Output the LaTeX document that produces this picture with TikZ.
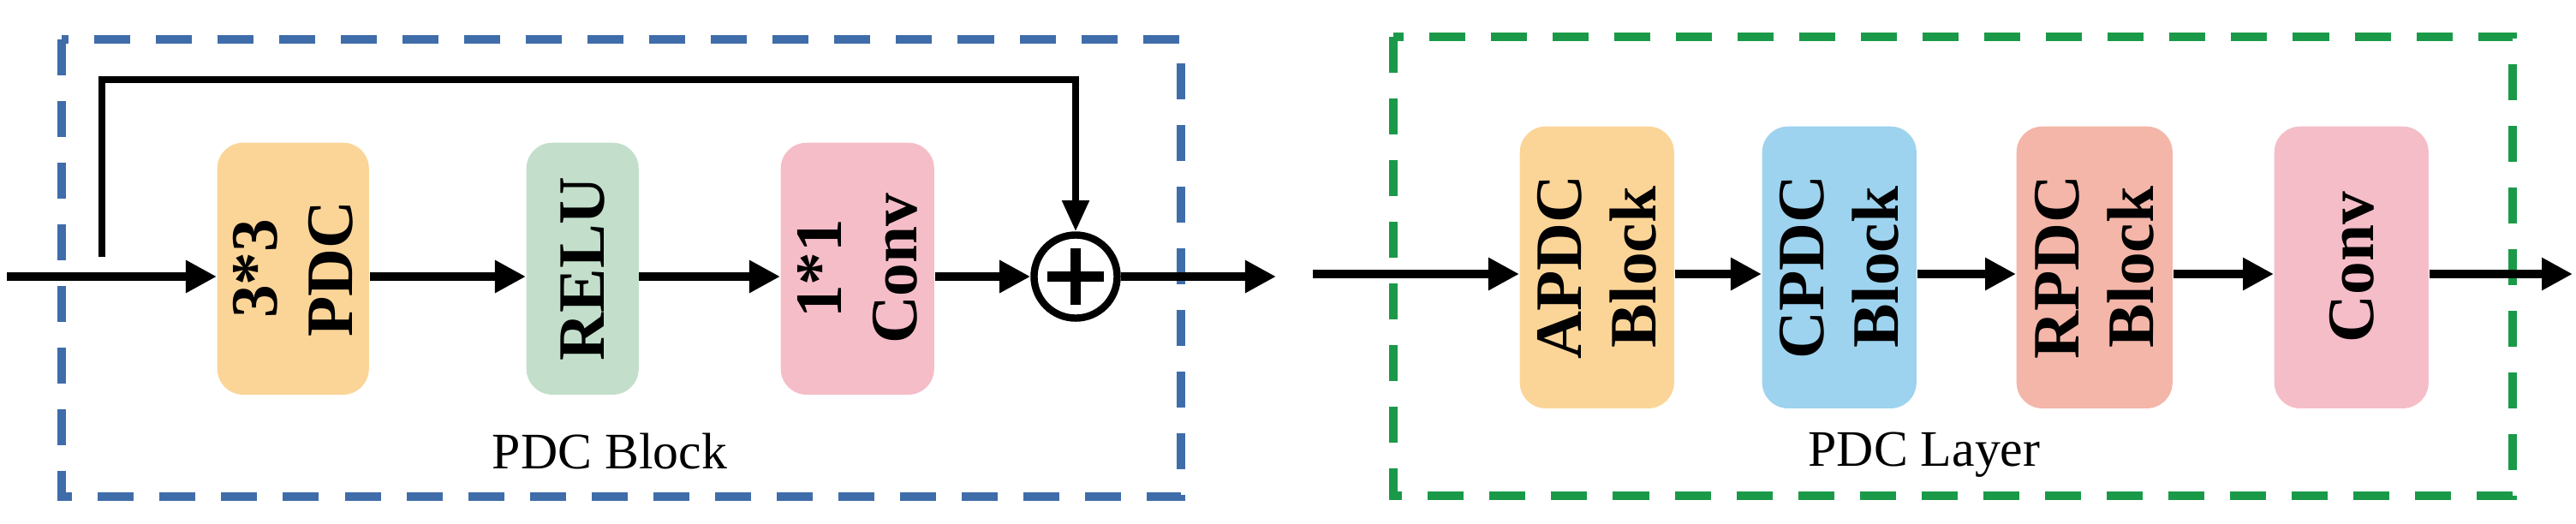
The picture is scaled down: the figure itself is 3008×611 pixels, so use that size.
\documentclass[tikz,border=0pt]{standalone}
\usepackage{fontspec}
\setmainfont{Liberation Serif}
\usetikzlibrary{arrows.meta}
\definecolor{cor}{HTML}{FBD598}
\definecolor{cgr}{HTML}{C3DFCC}
\definecolor{cpk}{HTML}{F5BDC8}
\definecolor{cbl}{HTML}{9DD3EE}
\definecolor{csa}{HTML}{F3B6A8}
\definecolor{dblue}{HTML}{3F6DAA}
\definecolor{dgreen}{HTML}{1A9A48}
\begin{document}
\begin{tikzpicture}[x=0.01cm,y=-0.01cm,
  box/.style={rectangle,rounded corners=0.3cm,draw=none,inner sep=0,anchor=north west},
  txt/.style={rotate=90,font=\fontsize{22}{25}\selectfont\bfseries,align=center},
  arr/.style={line width=2.8pt,-{Triangle[length=0.36cm,width=0.36cm]}},
  frame/.style={line width=2.8pt,dash pattern=on 0.42cm off 0.3cm},
  lab/.style={font=\fontsize{17}{20}\selectfont}]
\useasboundingbox (0,0) rectangle (3008,611);
% left frame
\draw[frame,dblue] (72,46) rectangle (1379,580);
\node[lab] (lb) at (712,527) {PDC Block};
\node[box,fill=cor,minimum width=1.77cm,minimum height=2.94cm] (b1) at (253,166) {};
\node[box,fill=cgr,minimum width=1.31cm,minimum height=2.94cm] (b2) at (614,166) {};
\node[box,fill=cpk,minimum width=1.79cm,minimum height=2.94cm] (b3) at (911,166) {};
\node[txt] at (b1.center) {3*3\\PDC};
\node[txt] at (b2.center) {RELU};
\node[txt] at (b3.center) {1*1\\Conv};
\node[circle,draw,line width=2.4pt,minimum size=0.97cm,inner sep=0] (plus) at (1256,323) {};
\draw[line width=3.6pt] (plus.center)++(-33,0) -- ++(66,0);
\draw[line width=3.6pt] (plus.center)++(0,-33) -- ++(0,66);
\coordinate (in1) at (8,323);
\coordinate (out1) at (1490,323);
\coordinate (sk) at (119,300);
\draw[arr] (in1) -- (in1 -| b1.west);
\draw[arr] (in1 -| b1.east) -- (in1 -| b2.west);
\draw[arr] (in1 -| b2.east) -- (in1 -| b3.west);
\draw[arr] (in1 -| b3.east) -- (plus.west);
\draw[arr] (plus.east) -- (out1);
\draw[arr,line width=2.2pt,-{Triangle[length=0.36cm,width=0.3cm]}] (sk) -- (119,93) -- (1256,93) -- (plus.north);
% right frame
\draw[frame,dgreen] (1627,43) rectangle (2934,579);
\node[lab] (lr) at (2247,531) {PDC Layer};
\node[box,fill=cor,minimum width=1.80cm,minimum height=3.29cm] (c1) at (1774,147) {};
\node[box,fill=cbl,minimum width=1.80cm,minimum height=3.29cm] (c2) at (2057,147) {};
\node[box,fill=csa,minimum width=1.82cm,minimum height=3.29cm] (c3) at (2354,147) {};
\node[box,fill=cpk,minimum width=1.80cm,minimum height=3.29cm] (c4) at (2655,147) {};
\node[txt] at (c1.center) {APDC\\Block};
\node[txt] at (c2.center) {CPDC\\Block};
\node[txt] at (c3.center) {RPDC\\Block};
\node[txt] at (c4.center) {Conv};
\coordinate (in2) at (1533,320);
\coordinate (out2) at (3004,320);
\draw[arr] (in2) -- (in2 -| c1.west);
\draw[arr] (in2 -| c1.east) -- (in2 -| c2.west);
\draw[arr] (in2 -| c2.east) -- (in2 -| c3.west);
\draw[arr] (in2 -| c3.east) -- (in2 -| c4.west);
\draw[arr] (in2 -| c4.east) -- (out2);
\end{tikzpicture}
\end{document}
